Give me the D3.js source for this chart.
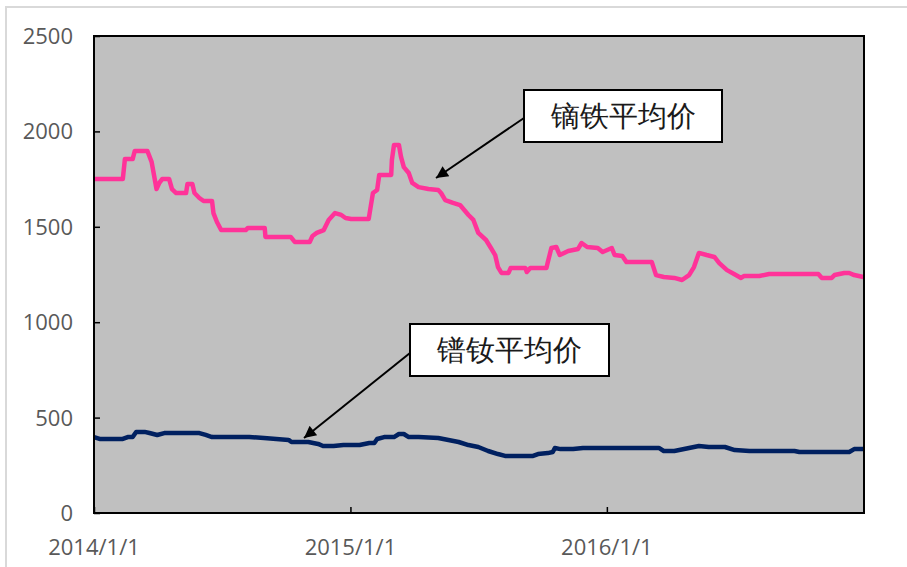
<!DOCTYPE html>
<html>
<head>
<meta charset="utf-8">
<script src="https://cdn.jsdelivr.net/npm/d3@7"></script>
<style>
  body { margin: 0; background: #fff; }
  text { font-family: "Open Sans", "Noto Sans", sans-serif; }
</style>
</head>
<body>
<svg id="vis" width="907" height="567"></svg>
<script>
// y axis ticks and x axis ticks
const yTicks = [0, 500, 1000, 1500, 2000, 2500];
const xTicks = ["2014-01-01", "2015-01-01", "2016-01-01"];

// 镝铁平均价 (pink)
const dyDates = ["2014-01-01","2014-02-11","2014-02-14","2014-02-25","2014-02-28","2014-03-18","2014-03-24","2014-03-31",
  "2014-04-04","2014-04-08","2014-04-18","2014-04-22","2014-04-28","2014-05-12","2014-05-14","2014-05-21","2014-05-24",
  "2014-05-31","2014-06-06","2014-06-18","2014-06-20","2014-06-25","2014-07-01","2014-08-05","2014-08-08","2014-09-01",
  "2014-09-02","2014-10-08","2014-10-14","2014-11-04","2014-11-08","2014-11-14","2014-11-24","2014-12-01","2014-12-10",
  "2014-12-19","2014-12-25","2015-01-02","2015-01-27","2015-01-30","2015-02-02","2015-02-08","2015-02-11","2015-02-28",
  "2015-03-01","2015-03-04","2015-03-11","2015-03-14","2015-03-18","2015-03-25","2015-03-30","2015-04-08","2015-04-22",
  "2015-05-06","2015-05-10","2015-05-16","2015-05-27","2015-06-06","2015-06-12","2015-06-18","2015-06-25","2015-07-02",
  "2015-07-13","2015-07-20","2015-07-26","2015-07-30","2015-08-04","2015-08-14","2015-08-17","2015-09-07","2015-09-09",
  "2015-09-14","2015-10-07","2015-10-09","2015-10-14","2015-10-21","2015-10-26","2015-11-07","2015-11-21","2015-11-26",
  "2015-12-04","2015-12-19","2015-12-26","2016-01-08","2016-01-12","2016-01-23","2016-01-29","2016-03-05","2016-03-11",
  "2016-03-22","2016-04-06","2016-04-17","2016-04-27","2016-05-04","2016-05-11","2016-05-22","2016-06-02","2016-06-09",
  "2016-06-20","2016-06-30","2016-07-10","2016-07-14","2016-08-05","2016-08-19","2016-10-28","2016-11-02","2016-11-16",
  "2016-11-20","2016-12-04","2016-12-11","2016-12-18","2016-12-31"];
const dyValues = [1750,1750,1855,1855,1897,1897,1840,1698,
  1730,1750,1750,1698,1677,1677,1724,1724,1677,
  1651,1635,1635,1572,1525,1483,1483,1494,1494,
  1447,1447,1420,1420,1452,1468,1483,1536,1572,
  1562,1546,1541,1541,1609,1677,1693,1772,1772,
  1850,1929,1929,1866,1813,1782,1730,1708,1698,
  1693,1677,1640,1625,1614,1588,1562,1536,1468,
  1431,1389,1352,1289,1258,1258,1284,1284,1263,
  1284,1284,1315,1389,1394,1352,1373,1384,1415,
  1394,1389,1368,1389,1352,1347,1315,1315,1247,
  1237,1232,1221,1247,1289,1363,1352,1342,1310,
  1273,1253,1232,1242,1242,1253,1253,1232,1232,
  1247,1258,1258,1247,1237];

// 镨钕平均价 (navy)
const ndDates = ["2014-01-01","2014-01-09","2014-02-11","2014-02-18","2014-02-25","2014-03-02","2014-03-14","2014-03-21",
  "2014-04-01","2014-04-11","2014-05-31","2014-06-09","2014-06-18","2014-08-10","2014-08-31","2014-10-05","2014-10-09",
  "2014-11-02","2014-11-16","2014-11-23","2014-12-08","2014-12-22","2015-01-14","2015-01-28","2015-02-04","2015-02-08",
  "2015-02-18","2015-03-04","2015-03-11","2015-03-18","2015-03-25","2015-04-08","2015-05-06","2015-06-04","2015-06-18",
  "2015-07-02","2015-07-16","2015-07-30","2015-08-09","2015-09-18","2015-09-25","2015-10-09","2015-10-16","2015-10-19",
  "2015-10-27","2015-11-14","2015-11-28","2016-03-15","2016-03-22","2016-04-06","2016-04-13","2016-04-27","2016-05-11",
  "2016-05-25","2016-06-17","2016-07-01","2016-07-22","2016-09-24","2016-10-01","2016-12-11","2016-12-18","2016-12-31"];
const ndValues = [398,388,388,398,398,425,425,419,
  409,419,419,409,398,398,393,383,372,
  372,362,351,351,356,356,367,367,388,
  398,398,414,414,398,398,393,372,356,
  346,325,309,299,299,309,314,320,341,
  335,335,341,341,325,325,330,341,351,
  346,346,330,325,325,320,320,335,335];

const parse = d3.timeParse("%Y-%m-%d");
const dy = dyDates.map((d, i) => ({date: parse(d), value: dyValues[i]}));
const nd = ndDates.map((d, i) => ({date: parse(d), value: ndValues[i]}));

const svg = d3.select("svg#vis");

// outer chart frame (light grey, partly cropped)
svg.append("rect")
  .attr("x", 6).attr("y", 7)
  .attr("width", 920).attr("height", 580)
  .attr("fill", "none")
  .attr("stroke", "#d9d9d9")
  .attr("stroke-width", 2);

const plot = {left: 94, top: 36, right: 864, bottom: 513};

const x = d3.scaleTime()
  .domain([parse("2014-01-01"), parse("2017-01-01")])
  .range([plot.left, plot.right]);

const y = d3.scaleLinear()
  .domain([0, 2500])
  .range([plot.bottom, plot.top]);

// plot area
svg.append("rect")
  .attr("x", plot.left).attr("y", plot.top)
  .attr("width", plot.right - plot.left)
  .attr("height", plot.bottom - plot.top)
  .attr("fill", "#c0c0c0");

// y axis (inward ticks)
const yAxis = svg.append("g")
  .attr("transform", "translate(" + plot.left + ",0)")
  .call(d3.axisRight(y).tickValues(yTicks).tickSize(6).tickFormat(""));
yAxis.select(".domain").remove();
yAxis.selectAll("line").attr("stroke", "#000").attr("stroke-width", 1.5);

svg.append("g").selectAll("text")
  .data(yTicks)
  .enter()
  .append("text")
  .attr("x", 73)
  .attr("y", d => y(d))
  .attr("dy", "0.36em")
  .attr("text-anchor", "end")
  .attr("font-size", 22)
  .attr("fill", "#595959")
  .text(d => d);

// x axis (inward ticks)
const xAxis = svg.append("g")
  .attr("transform", "translate(0," + plot.bottom + ")")
  .call(d3.axisTop(x).tickValues(xTicks.map(parse)).tickSize(6).tickFormat(""));
xAxis.select(".domain").remove();
xAxis.selectAll("line").attr("stroke", "#000").attr("stroke-width", 1.5);

const fmt = d3.timeFormat("%Y/%-m/%-d");
svg.append("g").selectAll("text")
  .data(xTicks.map(parse))
  .enter()
  .append("text")
  .attr("x", d => x(d))
  .attr("y", 547)
  .attr("dy", "0.36em")
  .attr("text-anchor", "middle")
  .attr("font-size", 22)
  .attr("fill", "#595959")
  .text(d => fmt(d));

// lines
const line = d3.line()
  .x(d => x(d.date))
  .y(d => y(d.value));

svg.append("path")
  .datum(dy)
  .attr("d", line)
  .attr("fill", "none")
  .attr("stroke", "#ff3399")
  .attr("stroke-width", 4.5)
  .attr("stroke-linejoin", "round");

svg.append("path")
  .datum(nd)
  .attr("d", line)
  .attr("fill", "none")
  .attr("stroke", "#002060")
  .attr("stroke-width", 4.5)
  .attr("stroke-linejoin", "round");

// plot border
svg.append("rect")
  .attr("x", plot.left).attr("y", plot.top)
  .attr("width", plot.right - plot.left)
  .attr("height", plot.bottom - plot.top)
  .attr("fill", "none")
  .attr("stroke", "#000")
  .attr("stroke-width", 2);

// annotations
svg.append("defs").append("marker")
  .attr("id", "arrow")
  .attr("viewBox", "0 0 10 10")
  .attr("refX", 10).attr("refY", 5)
  .attr("markerWidth", 8).attr("markerHeight", 6)
  .attr("markerUnits", "strokeWidth")
  .attr("orient", "auto")
  .append("path")
  .attr("d", "M0,0L10,5L0,10Z")
  .attr("fill", "#000");

const notes = [
  {label: "镝铁平均价", box: [524, 90, 198, 52], from: [524, 118], to: [436, 178]},
  {label: "镨钕平均价", box: [410, 324, 199, 52], from: [410, 353], to: [304, 438]}
];

notes.forEach(n => {
  svg.append("line")
    .attr("x1", n.from[0]).attr("y1", n.from[1])
    .attr("x2", n.to[0]).attr("y2", n.to[1])
    .attr("stroke", "#000")
    .attr("stroke-width", 2)
    .attr("marker-end", "url(#arrow)");
  svg.append("rect")
    .attr("x", n.box[0]).attr("y", n.box[1])
    .attr("width", n.box[2]).attr("height", n.box[3])
    .attr("fill", "#fff")
    .attr("stroke", "#000")
    .attr("stroke-width", 2);
  svg.append("text")
    .attr("x", n.box[0] + n.box[2] / 2)
    .attr("y", n.box[1] + n.box[3] / 2)
    .attr("dy", "0.36em")
    .attr("text-anchor", "middle")
    .attr("font-family", "Noto Sans CJK SC")
    .attr("font-size", 29)
    .attr("fill", "#1a1a1a")
    .text(n.label);
});
</script>
</body>
</html>
